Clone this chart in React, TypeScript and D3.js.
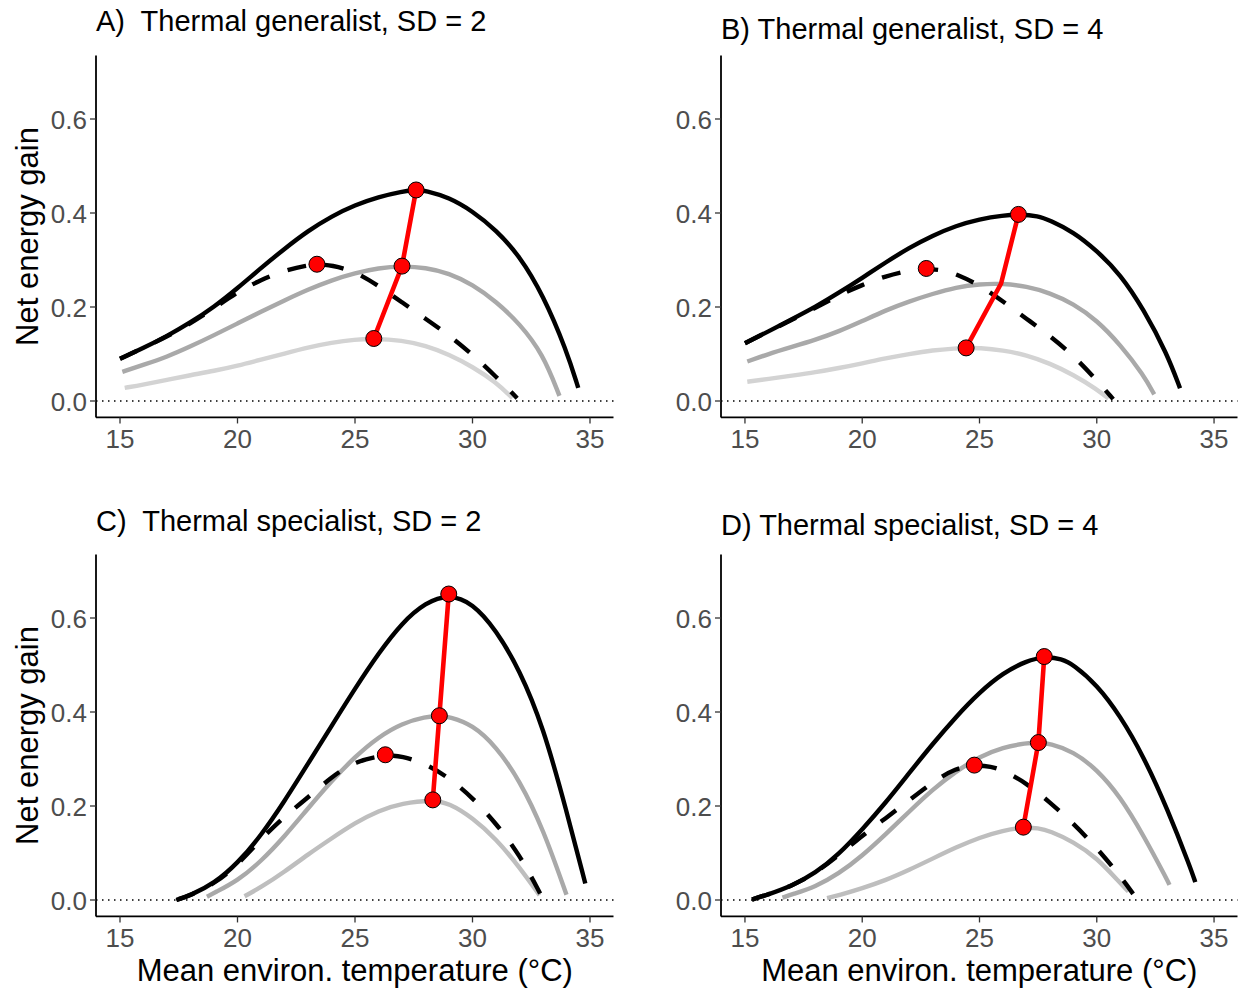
import React from 'react';
import * as d3 from 'd3';

// axis ticks and labels
const xTicks = [15, 20, 25, 30, 35];
const yTicks = [0, 0.2, 0.4, 0.6];
const titles = [
  'A)  Thermal generalist, SD = 2',
  'B) Thermal generalist, SD = 4',
  'C)  Thermal specialist, SD = 2',
  'D) Thermal specialist, SD = 4',
];
const xLabel = 'Mean environ. temperature (°C)';
const yLabel = 'Net energy gain';

// curves: [temperature, net energy gain]
// A) generalist, SD = 2
const aBlack = [[15, 0.09], [16, 0.113], [17, 0.138], [18, 0.167], [19, 0.2], [20, 0.24], [21, 0.283], [22, 0.324], [23, 0.362], [24, 0.393], [25, 0.417], [26, 0.434], [27, 0.446], [27.6, 0.449], [28, 0.448], [29, 0.433], [30, 0.404], [31, 0.364], [32, 0.309], [33, 0.226], [34, 0.108], [34.5, 0.028]];
const aDark = [[15.1, 0.062], [16, 0.077], [17, 0.094], [18, 0.116], [19, 0.14], [20, 0.165], [21, 0.19], [22, 0.214], [23, 0.237], [24, 0.257], [25, 0.272], [26, 0.283], [27, 0.287], [28, 0.284], [29, 0.272], [30, 0.248], [31, 0.212], [32, 0.165], [33, 0.1], [33.7, 0.011]];
const aLight = [[15.2, 0.028], [16, 0.035], [17, 0.045], [18, 0.055], [19, 0.064], [20, 0.075], [21, 0.088], [22, 0.101], [23, 0.114], [24, 0.124], [25, 0.131], [25.8, 0.133], [27, 0.129], [28, 0.118], [29, 0.099], [30, 0.073], [31, 0.04], [31.7, 0.006]];
const aDashed = [[15, 0.09], [16, 0.113], [17, 0.137], [18, 0.165], [19, 0.197], [20, 0.232], [21, 0.258], [22, 0.278], [23, 0.289], [23.4, 0.291], [24, 0.289], [25, 0.276], [26, 0.245], [27, 0.21], [28, 0.175], [29, 0.14], [30, 0.099], [31, 0.052], [31.9, 0.006]];
const aOptima = [[27.6, 0.449], [27.0, 0.287], [25.8, 0.133]];
const aDashedPeak = [23.38, 0.291];

// B) generalist, SD = 4
const bBlack = [[15, 0.123], [16, 0.148], [17, 0.174], [18, 0.2], [19, 0.23], [20, 0.262], [21, 0.295], [22, 0.326], [23, 0.352], [24, 0.373], [25, 0.387], [26, 0.395], [26.7, 0.397], [27.5, 0.394], [28, 0.384], [29, 0.36], [30, 0.32], [31, 0.27], [32, 0.195], [33, 0.1], [33.55, 0.027]];
const bDark = [[15.1, 0.084], [16, 0.1], [17, 0.115], [18, 0.13], [19, 0.148], [20, 0.17], [21, 0.193], [22, 0.212], [23, 0.228], [24, 0.242], [25, 0.249], [26, 0.25], [27, 0.244], [28, 0.23], [29, 0.207], [30, 0.172], [31, 0.12], [32, 0.055], [32.45, 0.014]];
const bLight = [[15.1, 0.041], [16, 0.047], [17, 0.054], [18, 0.061], [19, 0.07], [20, 0.08], [21, 0.091], [22, 0.1], [23, 0.108], [24, 0.112], [24.4, 0.113], [25, 0.113], [26, 0.108], [27, 0.098], [28, 0.08], [29, 0.056], [30, 0.025], [30.5, 0.005]];
const bDashed = [[15, 0.123], [16, 0.148], [17, 0.173], [18, 0.198], [19, 0.225], [20, 0.247], [21, 0.266], [22, 0.278], [22.7, 0.282], [23.5, 0.278], [24, 0.27], [25, 0.247], [26, 0.212], [27, 0.175], [28, 0.139], [29, 0.097], [30, 0.044], [30.7, 0.004]];
const bOptima = [[26.66, 0.397], [25.92, 0.25], [24.43, 0.113]];
const bDashedPeak = [22.73, 0.282];

// C) specialist, SD = 2
const cBlack = [[17.4, 0.0], [18, 0.01], [19, 0.035], [20, 0.078], [21, 0.137], [22, 0.21], [23, 0.29], [24, 0.37], [25, 0.45], [26, 0.525], [27, 0.59], [28, 0.633], [29, 0.651], [30, 0.632], [31, 0.575], [32, 0.49], [33, 0.37], [34, 0.19], [34.8, 0.035]];
const cDark = [[18.7, 0.007], [19, 0.015], [20, 0.041], [21, 0.082], [22, 0.135], [23, 0.195], [24, 0.253], [25, 0.305], [26, 0.347], [27, 0.376], [28, 0.39], [28.6, 0.392], [29, 0.39], [30, 0.373], [31, 0.327], [32, 0.255], [33, 0.152], [34, 0.011]];
const cLight = [[20.3, 0.008], [21, 0.027], [22, 0.06], [23, 0.097], [24, 0.131], [25, 0.164], [26, 0.19], [27, 0.206], [28.3, 0.213], [29, 0.206], [30, 0.175], [31, 0.13], [32, 0.07], [32.85, 0.01]];
const cDashed = [[17.4, 0.0], [18, 0.01], [19, 0.034], [20, 0.074], [21, 0.13], [22, 0.178], [23, 0.218], [24, 0.262], [25, 0.295], [26.3, 0.309], [27, 0.306], [28, 0.29], [29, 0.26], [30, 0.218], [31, 0.163], [32, 0.097], [32.9, 0.012]];
const cOptima = [[28.99, 0.651], [28.59, 0.392], [28.31, 0.213]];
const cDashedPeak = [26.29, 0.309];

// D) specialist, SD = 4
const dBlack = [[15.3, 0.001], [16, 0.012], [17, 0.03], [18, 0.057], [19, 0.097], [20, 0.15], [21, 0.207], [22, 0.27], [23, 0.332], [24, 0.39], [25, 0.442], [26, 0.483], [27, 0.509], [27.8, 0.518], [28.5, 0.513], [29, 0.501], [30, 0.458], [31, 0.392], [32, 0.305], [33, 0.195], [34, 0.068], [34.2, 0.038]];
const dDark = [[16.6, 0.005], [17, 0.012], [18, 0.028], [19, 0.056], [20, 0.094], [21, 0.14], [22, 0.188], [23, 0.235], [24, 0.274], [25, 0.305], [26, 0.325], [27, 0.334], [27.5, 0.335], [28, 0.333], [29, 0.316], [30, 0.278], [31, 0.22], [32, 0.137], [33, 0.043], [33.1, 0.032]];
const dLight = [[18.5, 0.004], [19, 0.01], [20, 0.025], [21, 0.042], [22, 0.064], [23, 0.088], [24, 0.112], [25, 0.133], [26, 0.148], [26.9, 0.155], [27.5, 0.153], [28, 0.147], [29, 0.124], [30, 0.09], [31, 0.036], [31.35, 0.018]];
const dDashed = [[15.3, 0.001], [16, 0.012], [17, 0.03], [18, 0.057], [19, 0.095], [20, 0.137], [21, 0.174], [22, 0.212], [23, 0.251], [24, 0.281], [24.8, 0.287], [25.5, 0.284], [26, 0.276], [27, 0.249], [28, 0.208], [29, 0.163], [30, 0.111], [31, 0.051], [31.55, 0.013]];
const dOptima = [[27.76, 0.518], [27.51, 0.335], [26.87, 0.155]];
const dDashedPeak = [24.78, 0.287];

const FONT = '"Liberation Sans", Arial, Helvetica, sans-serif';

type Pt = number[];

function Panel(props: {
  x0: number; x1: number; yTop: number; yBot: number;
  title: string; titleY: number;
  black: Pt[]; dark: Pt[]; light: Pt[]; dashed: Pt[];
  optima: Pt[]; dots: boolean[]; peak: Pt; lightColor: string;
  showX: boolean; showY: boolean;
}) {
  const x = d3.scaleLinear().domain([14, 36]).range([props.x0, props.x1]);
  const y = d3.scaleLinear().domain([-0.035, 0.735]).range([props.yBot, props.yTop]);
  const line = d3.line<Pt>().x((d) => x(d[0])).y((d) => y(d[1])).curve(d3.curveBasis);
  const red = d3.line<Pt>().x((d) => x(d[0])).y((d) => y(d[1]));
  const axisX = props.x0 - 0.5;

  return (
    <g>
      <text x={axisX} y={props.titleY} fontSize={29} fill="#000" style={{ whiteSpace: 'pre' }}>
        {props.title}
      </text>

      {/* zero reference */}
      <line x1={axisX} x2={props.x1} y1={y(0)} y2={y(0)} stroke="#000" strokeWidth={1.3} strokeDasharray="1.5,4.5" />

      <path d={line(props.light) || ''} fill="none" stroke={props.lightColor} strokeWidth={4.4} />
      <path d={line(props.dark) || ''} fill="none" stroke="#a9a9a9" strokeWidth={4.4} />
      <path d={line(props.black) || ''} fill="none" stroke="#000" strokeWidth={4.4} />
      <path d={line(props.dashed) || ''} fill="none" stroke="#000" strokeWidth={4.4} strokeDasharray="19,19" />

      <path d={red(props.optima) || ''} fill="none" stroke="#ff0000" strokeWidth={4.6} />
      {props.optima.map((d, i) =>
        props.dots[i] ? (
          <circle key={i} cx={x(d[0])} cy={y(d[1])} r={8} fill="#ff0000" stroke="#000" strokeWidth={1} />
        ) : null
      )}
      <circle cx={x(props.peak[0])} cy={y(props.peak[1])} r={8} fill="#ff0000" stroke="#000" strokeWidth={1} />

      {/* axes */}
      <line x1={axisX} x2={axisX} y1={props.yTop} y2={props.yBot} stroke="#000" strokeWidth={1.8} />
      <line x1={axisX} x2={props.x1} y1={props.yBot} y2={props.yBot} stroke="#000" strokeWidth={1.8} />

      {yTicks.map((t) => (
        <g key={t}>
          <line x1={axisX - 6} x2={axisX} y1={y(t)} y2={y(t)} stroke="#333" strokeWidth={1.3} />
          <text x={axisX - 9} y={y(t) + 9.5} textAnchor="end" fontSize={26} fill="#4d4d4d">
            {d3.format('.1f')(t)}
          </text>
        </g>
      ))}
      {xTicks.map((t) => (
        <g key={t}>
          <line x1={x(t)} x2={x(t)} y1={props.yBot} y2={props.yBot + 6} stroke="#333" strokeWidth={1.3} />
          <text x={x(t)} y={props.yBot + 31} textAnchor="middle" fontSize={26} fill="#4d4d4d">
            {t}
          </text>
        </g>
      ))}

      {props.showY && (
        <text
          transform={`translate(38,${(props.yTop + props.yBot) / 2}) rotate(-90)`}
          textAnchor="middle"
          fontSize={31}
          fill="#000"
        >
          {yLabel}
        </text>
      )}
      {props.showX && (
        <text x={(axisX + props.x1) / 2} y={981} textAnchor="middle" fontSize={31} fill="#000">
          {xLabel}
        </text>
      )}
    </g>
  );
}

export default function App() {
  const left = [96.5, 613.5];
  const right = [721.5, 1237.5];
  const top = [55.55, 417.45];
  const bottom = [554.55, 916.45];
  const all3 = [true, true, true];

  return (
    <svg
      width={1241}
      height={988}
      style={{ position: 'absolute', left: 0, top: 0, display: 'block', background: '#fff' }}
      fontFamily={FONT}
    >
      <rect width={1241} height={988} fill="#fff" />
      <Panel x0={left[0]} x1={left[1]} yTop={top[0]} yBot={top[1]} title={titles[0]} titleY={31}
        black={aBlack} dark={aDark} light={aLight} dashed={aDashed} optima={aOptima} dots={all3}
        peak={aDashedPeak} lightColor="#d3d3d3" showX={false} showY={true} />
      <Panel x0={right[0]} x1={right[1]} yTop={top[0]} yBot={top[1]} title={titles[1]} titleY={39}
        black={bBlack} dark={bDark} light={bLight} dashed={bDashed} optima={bOptima} dots={[true, false, true]}
        peak={bDashedPeak} lightColor="#d3d3d3" showX={false} showY={false} />
      <Panel x0={left[0]} x1={left[1]} yTop={bottom[0]} yBot={bottom[1]} title={titles[2]} titleY={531}
        black={cBlack} dark={cDark} light={cLight} dashed={cDashed} optima={cOptima} dots={all3}
        peak={cDashedPeak} lightColor="#bebebe" showX={true} showY={true} />
      <Panel x0={right[0]} x1={right[1]} yTop={bottom[0]} yBot={bottom[1]} title={titles[3]} titleY={535}
        black={dBlack} dark={dDark} light={dLight} dashed={dDashed} optima={dOptima} dots={all3}
        peak={dDashedPeak} lightColor="#bebebe" showX={true} showY={false} />
    </svg>
  );
}
